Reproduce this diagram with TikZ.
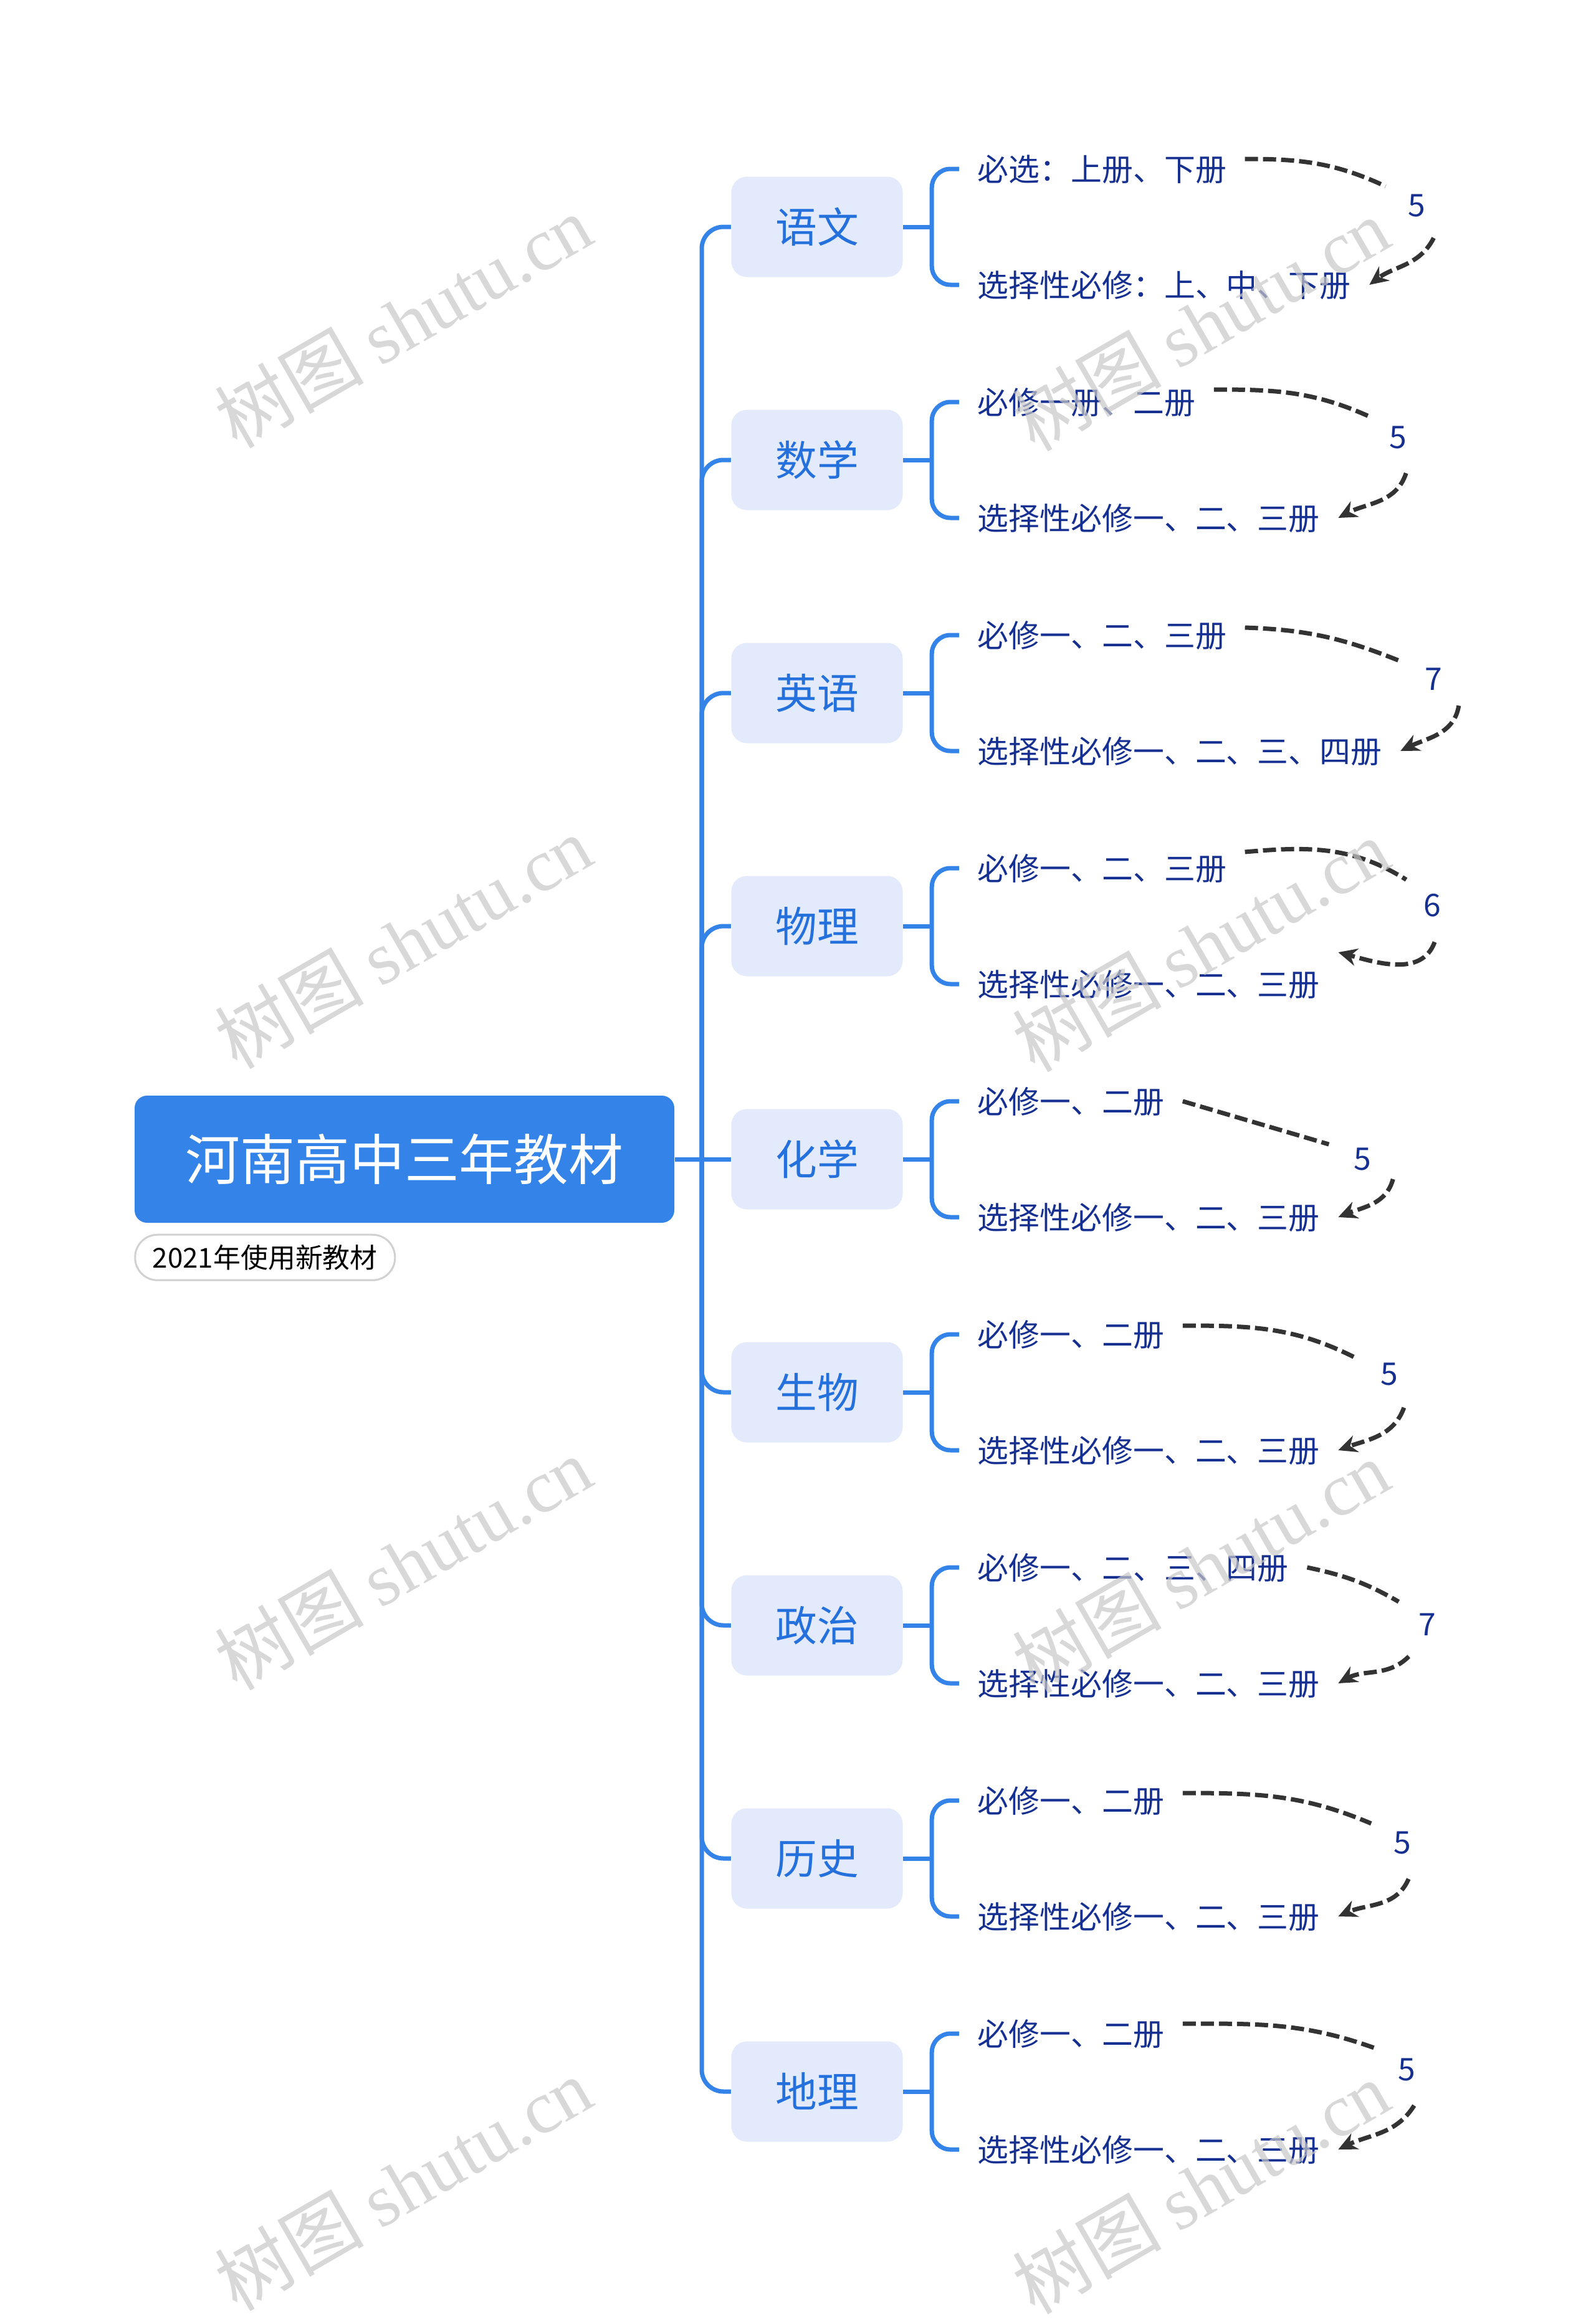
\documentclass[tikz,border=0pt]{standalone}
\usepackage{fontspec}
\setmainfont{Noto Sans CJK SC}
\newfontfamily\latinserif{Liberation Serif}
\usepackage{tikz}
\usetikzlibrary{arrows.meta}
\usetikzlibrary{positioning, shapes}
\definecolor{rootblue}{RGB}{51,131,232}
\definecolor{subjfill}{RGB}{227,234,251}
\definecolor{subjtext}{RGB}{36,112,220}
\definecolor{leaftext}{RGB}{22,48,145}
\definecolor{dashgray}{RGB}{51,51,51}
\definecolor{wmgray}{RGB}{200,200,200}
\tikzset{
  rootbox/.style={fill=rootblue, text=white, rounded corners=0.2cm, minimum width=8.66cm, minimum height=2.04cm, inner sep=0pt, font=\fontsize{25pt}{30pt}\selectfont, text height=0.77cm, text depth=0.1cm},
  notebox/.style={draw=black!18, line width=0.03cm, fill=white, rounded corners=0.36cm, minimum width=4.17cm, minimum height=0.73cm, inner sep=0pt, font=\fontsize{12.5pt}{15pt}\selectfont, text height=0.39cm, text depth=0.05cm},
  subjbox/.style={fill=subjfill, text=subjtext, rounded corners=0.25cm, minimum width=2.75cm, minimum height=1.61cm, inner sep=0pt, font=\fontsize{19pt}{23pt}\selectfont, text height=0.58cm, text depth=0.07cm},
  leafnode/.style={anchor=west, text=leaftext, inner xsep=0.29cm, inner ysep=0.02cm, font=\fontsize{14.2pt}{17pt}\selectfont, text height=0.44cm, text depth=0.06cm},
  numlabel/.style={circle, text=leaftext, minimum size=1.16cm, inner sep=0pt, font=\fontsize{14.2pt}{17pt}\selectfont},
  branchline/.style={draw=rootblue, line width=0.07cm, rounded corners=0.35cm},
  braceline/.style={draw=rootblue, line width=0.07cm, rounded corners=0.3cm},
  dashlink/.style={draw=dashgray, line width=0.07cm, dash pattern=on 0.21cm off 0.08cm},
  dasharrow/.style={dashlink, -{Stealth[length=0.3cm, width=0.28cm]}},
  watermark/.style={text=wmgray, text opacity=0.7, rotate=30, font=\fontsize{34pt}{40pt}\selectfont}
}

\begin{document}
\begin{tikzpicture}
\useasboundingbox (0,0) rectangle (25.6,-37.21);
\fill[white] (0,0) rectangle (25.6,-37.21);
\node[rootbox] (r) at (6.49,-18.60) {河南高中三年教材};
\node[notebox, below right=0.17cm and 0cm of r.south west] (m) {2021年使用新教材};
\coordinate (j) at (11.26,-18.60);
\draw[branchline] (r.east) -- (j);

\node[subjbox] (s1) at (13.11,-3.64) {语文};
\node[leafnode] (t1) at (15.39,-2.71) {必选：上册、下册};
\node[leafnode] (u1) at (15.39,-4.57) {选择性必修：上、中、下册};
\node[numlabel] (n1) at (22.73,-3.30) {5};
\draw[branchline] (j) |- (s1.west); \draw[branchline] (s1.east) -- ++(0.46,0) coordinate (b1);
\draw[braceline] (b1) |- (t1.west); \draw[braceline] (b1) |- (u1.west);
\draw[dashlink] ([yshift=0.16cm]t1.east) to[out=0,in=155] (n1.148);
\draw[dasharrow] (n1.-62) to[out=-117,in=37] (u1.east);

\node[subjbox] (s2) at (13.11,-7.38) {数学};
\node[leafnode] (t2) at (15.39,-6.45) {必修一册、二册};
\node[leafnode] (u2) at (15.39,-8.31) {选择性必修一、二、三册};
\node[numlabel] (n2) at (22.43,-7.02) {5};
\draw[branchline] (j) |- (s2.west); \draw[branchline] (s2.east) -- ++(0.46,0) coordinate (b2);
\draw[braceline] (b2) |- (t2.west); \draw[braceline] (b2) |- (u2.west);
\draw[dashlink] ([yshift=0.2cm]t2.east) to[out=0,in=156] (n2.144);
\draw[dasharrow] (n2.-77) to[out=-108,in=28] (u2.east);

\node[subjbox] (s3) at (13.11,-11.12) {英语};
\node[leafnode] (t3) at (15.39,-10.19) {必修一、二、三册};
\node[leafnode] (u3) at (15.39,-12.05) {选择性必修一、二、三、四册};
\node[numlabel] (n3) at (23.00,-10.90) {7};
\draw[branchline] (j) |- (s3.west); \draw[branchline] (s3.east) -- ++(0.46,0) coordinate (b3);
\draw[braceline] (b3) |- (t3.west); \draw[braceline] (b3) |- (u3.west);
\draw[dashlink] ([yshift=0.12cm]t3.east) to[out=-2,in=158] (n3.151);
\draw[dasharrow] (n3.-46) to[out=-99,in=26] (u3.east);

\node[subjbox] (s4) at (13.11,-14.86) {物理};
\node[leafnode] (t4) at (15.39,-13.93) {必修一、二、三册};
\node[leafnode] (u4) at (15.39,-15.79) {选择性必修一、二、三册};
\node[numlabel] (n4) at (22.98,-14.53) {6};
\draw[branchline] (j) |- (s4.west); \draw[branchline] (s4.east) -- ++(0.46,0) coordinate (b4);
\draw[braceline] (b4) |- (t4.west); \draw[braceline] (b4) |- (u4.west);
\draw[dashlink] ([yshift=0.26cm]t4.east) to[out=5,in=148] (n4.135);
\draw[dasharrow] (n4.-86) to[out=-110,in=-15] ([yshift=0.51cm]u4.east);

\node[subjbox] (s5) at (13.11,-18.60) {化学};
\node[leafnode] (t5) at (15.39,-17.67) {必修一、二册};
\node[leafnode] (u5) at (15.39,-19.53) {选择性必修一、二、三册};
\node[numlabel] (n5) at (21.86,-18.60) {5};
\draw[branchline] (j) -- (s5.west); \draw[branchline] (s5.east) -- ++(0.46,0) coordinate (b5);
\draw[braceline] (b5) |- (t5.west); \draw[braceline] (b5) |- (u5.west);
\draw[dashlink] (t5.east) -- (n5.156);
\draw[dasharrow] (n5.-33) to[out=-105,in=22] (u5.east);

\node[subjbox] (s6) at (13.11,-22.34) {生物};
\node[leafnode] (t6) at (15.39,-21.41) {必修一、二册};
\node[leafnode] (u6) at (15.39,-23.27) {选择性必修一、二、三册};
\node[numlabel] (n6) at (22.29,-22.05) {5};
\draw[branchline] (j) |- (s6.west); \draw[branchline] (s6.east) -- ++(0.46,0) coordinate (b6);
\draw[braceline] (b6) |- (t6.west); \draw[braceline] (b6) |- (u6.west);
\draw[dashlink] ([yshift=0.14cm]t6.east) to[out=0,in=153] (n6.154);
\draw[dasharrow] (n6.-66) to[out=-110,in=20] (u6.east);

\node[subjbox] (s7) at (13.11,-26.08) {政治};
\node[leafnode] (t7) at (15.39,-25.15) {必修一、二、三、四册};
\node[leafnode] (u7) at (15.39,-27.01) {选择性必修一、二、三册};
\node[numlabel] (n7) at (22.90,-26.07) {7};
\draw[branchline] (j) |- (s7.west); \draw[branchline] (s7.east) -- ++(0.46,0) coordinate (b7);
\draw[braceline] (b7) |- (t7.west); \draw[braceline] (b7) |- (u7.west);
\draw[dashlink] (t7.east) to[out=-12,in=150] (n7.141);
\draw[dasharrow] (n7.-120) to[out=-135,in=29] (u7.east);

\node[subjbox] (s8) at (13.11,-29.82) {历史};
\node[leafnode] (t8) at (15.39,-28.89) {必修一、二册};
\node[leafnode] (u8) at (15.39,-30.75) {选择性必修一、二、三册};
\node[numlabel] (n8) at (22.50,-29.57) {5};
\draw[branchline] (j) |- (s8.west); \draw[branchline] (s8.east) -- ++(0.46,0) coordinate (b8);
\draw[braceline] (b8) |- (t8.west); \draw[braceline] (b8) |- (u8.west);
\draw[dashlink] ([yshift=0.12cm]t8.east) to[out=0,in=157] (n8.148);
\draw[dasharrow] (n8.-80) to[out=-113,in=24] (u8.east);

\node[subjbox] (s9) at (13.11,-33.56) {地理};
\node[leafnode] (t9) at (15.39,-32.63) {必修一、二册};
\node[leafnode] (u9) at (15.39,-34.49) {选择性必修一、二、三册};
\node[numlabel] (n9) at (22.57,-33.21) {5};
\draw[branchline] (j) |- (s9.west); \draw[branchline] (s9.east) -- ++(0.46,0) coordinate (b9);
\draw[braceline] (b9) |- (t9.west); \draw[braceline] (b9) |- (u9.west);
\draw[dashlink] ([yshift=0.16cm]t9.east) to[out=0,in=160] (n9.145);
\draw[dasharrow] (n9.-78) to[out=-122,in=26] (u9.east);

\node[watermark] (w1) at (6.47,-5.15) {树图 \latinserif shutu.cn};
\node[watermark] (w2) at (19.27,-5.20) {树图 \latinserif shutu.cn};
\node[watermark] (w3) at (6.47,-15.11) {树图 \latinserif shutu.cn};
\node[watermark] (w4) at (19.27,-15.16) {树图 \latinserif shutu.cn};
\node[watermark] (w5) at (6.47,-25.08) {树图 \latinserif shutu.cn};
\node[watermark] (w6) at (19.27,-25.13) {树图 \latinserif shutu.cn};
\node[watermark] (w7) at (6.47,-35.04) {树图 \latinserif shutu.cn};
\node[watermark] (w8) at (19.27,-35.09) {树图 \latinserif shutu.cn};
\end{tikzpicture}
\end{document}
